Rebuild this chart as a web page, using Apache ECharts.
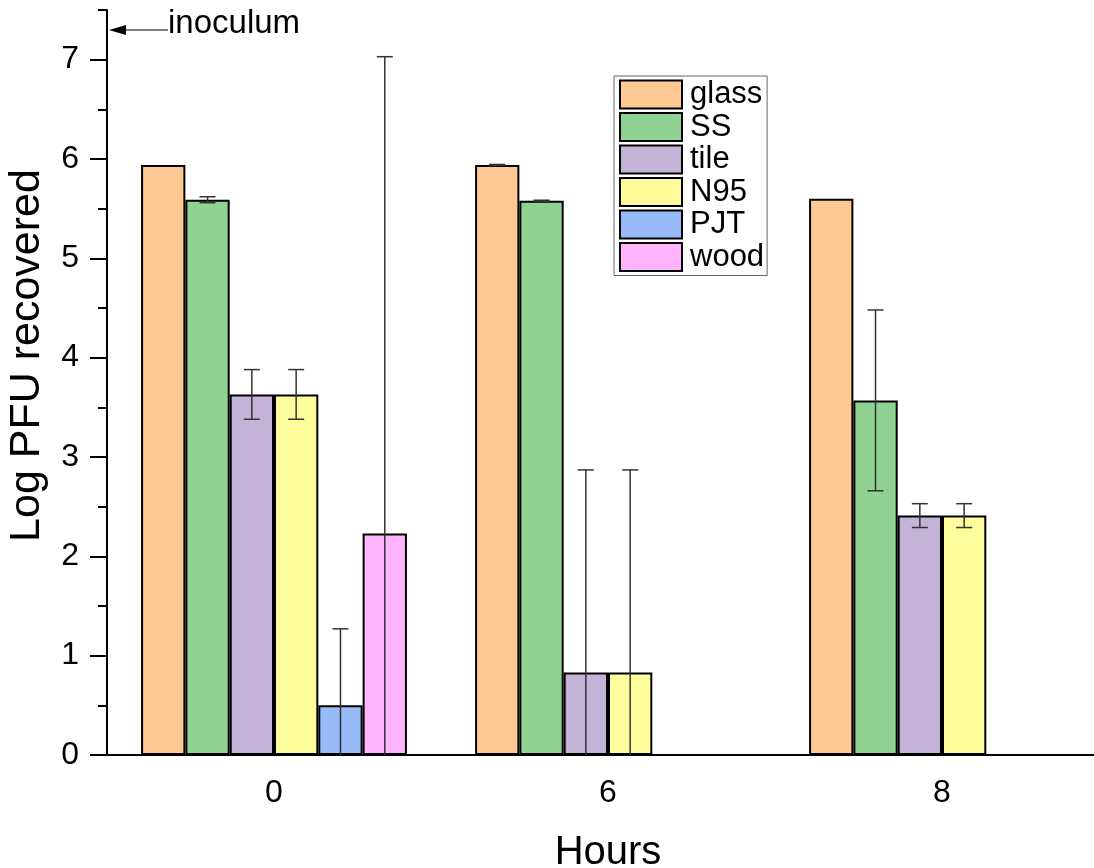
<!DOCTYPE html>
<html>
<head>
<meta charset="utf-8">
<script src="https://cdn.jsdelivr.net/npm/echarts@6/dist/echarts.min.js"></script>
<style>
  html, body { margin: 0; padding: 0; background: #fff; }
  #chart { width: 1094px; height: 868px; }
</style>
</head>
<body>
<div id="chart"></div>
<script>
  // 横轴类别（小时）
  const hours = ['0', '6', '8']
  const materials = ['glass', 'SS', 'tile', 'N95', 'PJT', 'wood']
  const yTicks = [0, 1, 2, 3, 4, 5, 6, 7]

  // 各材料均值与误差
  const glassMean = [5.94, 5.94, 5.60]
  const glassErr = [0, 0.005, 0]
  const ssMean = [5.59, 5.58, 3.57]
  const ssErr = [0.03, 0.005, 0.91]
  const tileMean = [3.63, 0.83, 2.41]
  const tileErr = [0.25, 2.04, 0.12]
  const n95Mean = [3.63, 0.83, 2.41]
  const n95Err = [0.25, 2.04, 0.12]
  const pjtMean = [0.50, null, null]
  const pjtErr = [0.77, null, null]
  const woodMean = [2.23, null, null]
  const woodErr = [4.80, null, null]

  const means = [glassMean, ssMean, tileMean, n95Mean, pjtMean, woodMean]
  const errs = [glassErr, ssErr, tileErr, n95Err, pjtErr, woodErr]
  const colors = ['#FEC992', '#90D291', '#C3B3D7', '#FFFD9B', '#98BAF8', '#FFB5FE']

  const font = 'Liberation Sans, Arial, sans-serif'
  const gapRatio = 0.204

  const chart = echarts.init(document.getElementById('chart'))

  // 误差棒数据 [类别索引, 系列索引, 均值, 误差]
  const errData = []
  means.forEach((m, k) => {
    m.forEach((v, i) => {
      if (v !== null && errs[k][i] !== null && errs[k][i] > 0) {
        errData.push([i, k, v, errs[k][i]])
      }
    })
  })

  const barSeries = materials.map((name, k) => ({
    name: name,
    type: 'bar',
    data: means[k],
    barGap: '0%',
    barCategoryGap: (gapRatio * 100) + '%',
    itemStyle: { color: colors[k], borderColor: '#000', borderWidth: 2 },
    emphasis: { disabled: true },
    z: 2
  }))

  const errorSeries = {
    type: 'custom',
    clip: true,
    z: 5,
    data: errData,
    renderItem: function (params, api) {
      const cat = api.value(0)
      const k = api.value(1)
      const mean = api.value(2)
      const err = api.value(3)
      const band = api.size([1, 0])[0]
      const barW = band * (1 - gapRatio) / materials.length
      const center = api.coord([cat, mean])
      const x = center[0] + (k - (materials.length - 1) / 2) * barW
      const top = api.coord([cat, mean + err])[1]
      const bottom = api.coord([cat, mean - err])[1]
      const cap = 8
      const style = { stroke: '#333', lineWidth: 1.5 }
      return {
        type: 'group',
        children: [
          { type: 'line', shape: { x1: x, y1: top, x2: x, y2: bottom }, style: style },
          { type: 'line', shape: { x1: x - cap, y1: top, x2: x + cap, y2: top }, style: style },
          { type: 'line', shape: { x1: x - cap, y1: bottom, x2: x + cap, y2: bottom }, style: style }
        ]
      }
    }
  }

  const option = {
    backgroundColor: '#fff',
    animation: false,
    textStyle: { fontFamily: font },
    grid: { left: 107, width: 1002, top: 10, height: 745, outerBoundsMode: 'none', containLabel: false },
    legend: {
      orient: 'vertical',
      left: 614,
      top: 76,
      data: materials,
      icon: 'rect',
      itemWidth: 62,
      itemHeight: 28,
      itemGap: 1.5,
      padding: [3, 3, 3, 5],
      borderColor: '#666',
      borderWidth: 1,
      selectedMode: false,
      textStyle: { fontSize: 31, lineHeight: 28, color: '#000', fontFamily: font, padding: [0, 0, 0, 3] }
    },
    xAxis: {
      type: 'category',
      data: hours,
      name: 'Hours',
      nameLocation: 'middle',
      nameGap: 78,
      nameTextStyle: { fontSize: 40, color: '#000', fontFamily: font },
      axisLine: { lineStyle: { color: '#000', width: 2 } },
      axisTick: { alignWithLabel: true, length: 16, lineStyle: { color: '#000', width: 2 } },
      axisLabel: { fontSize: 32, color: '#000', margin: 22, fontFamily: font }
    },
    yAxis: [{
      type: 'value',
      min: 0,
      max: 7.5,
      interval: 1,
      name: 'Log PFU recovered',
      nameLocation: 'middle',
      nameGap: 58,
      nameTextStyle: { fontSize: 43, color: '#000', fontFamily: font, padding: [0, 0, 0, 54] },
      axisLine: { show: true, lineStyle: { color: '#000', width: 2 } },
      axisTick: { show: true, length: 17, customValues: yTicks, lineStyle: { color: '#000', width: 2 } },
      splitLine: { show: false },
      axisLabel: { fontSize: 32, color: '#000', margin: 28, fontFamily: font, customValues: yTicks }
    }, {
      // 次刻度（每 0.5）
      type: 'value',
      position: 'left',
      min: 0,
      max: 7.5,
      interval: 0.5,
      axisLine: { show: false },
      axisTick: { show: true, length: 9, lineStyle: { color: '#000', width: 2 } },
      axisLabel: { show: false },
      splitLine: { show: false }
    }],
    graphic: [
      { type: 'line', shape: { x1: 168, y1: 30, x2: 122, y2: 30 }, style: { stroke: '#000', lineWidth: 1 } },
      { type: 'polygon', shape: { points: [[109, 30], [126, 25], [126, 35]] }, style: { fill: '#000' } },
      { type: 'text', left: 168, top: 7, style: { text: 'inoculum', fontSize: 33, fill: '#000', fontFamily: font } }
    ],
    series: barSeries.concat([errorSeries])
  }

  chart.setOption(option)
</script>
</body>
</html>
